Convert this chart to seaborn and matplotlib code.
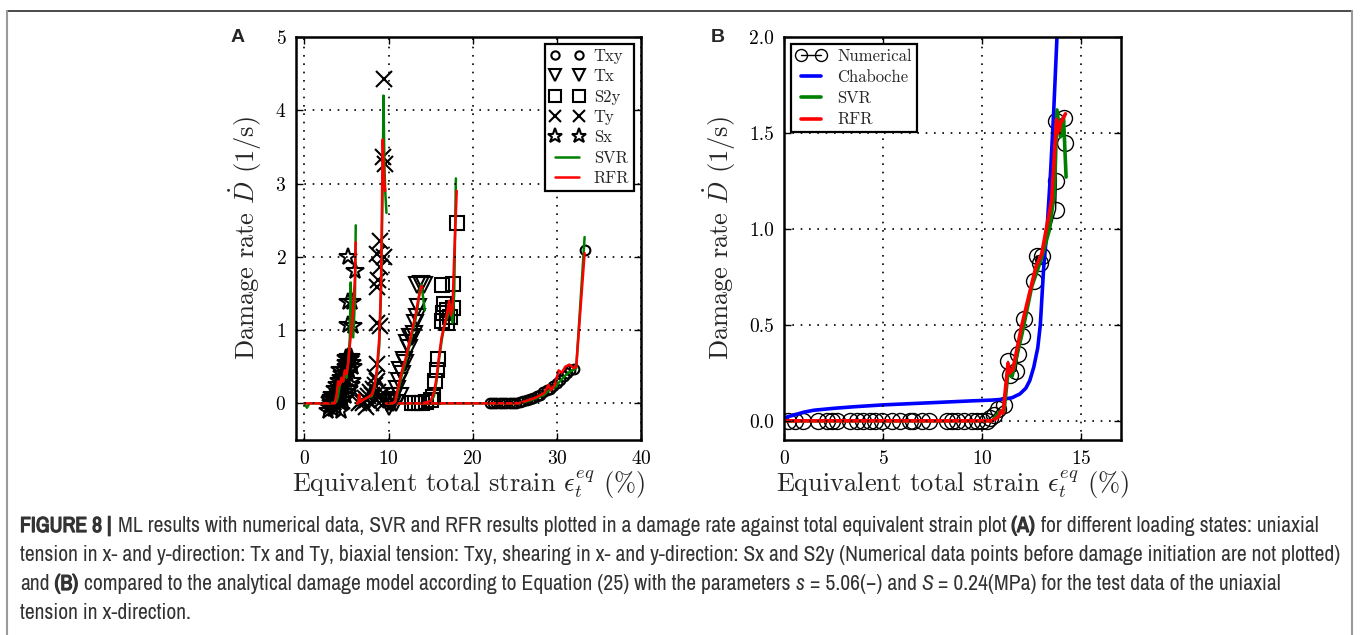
import numpy as np
import pandas as pd
import matplotlib
matplotlib.use("Agg")
import matplotlib.pyplot as plt
import seaborn as sns
from matplotlib.lines import Line2D
from matplotlib.font_manager import FontProperties
import matplotlib.patheffects as pe

# ---------------- Panel A data ----------------
sx_x = [2.9, 3.0, 3.2, 3.3, 3.5, 3.6, 3.8, 3.9, 4.0, 4.1, 4.2, 4.3, 4.4, 4.5, 4.6, 4.7, 4.8,
        4.9, 5.0, 5.1, 5.2, 5.3, 5.4, 5.5, 5.6, 5.7, 3.4, 3.7, 4.3, 4.6, 5.0, 5.3,
        3.1, 3.6, 4.0, 4.5, 4.8, 5.1, 5.5, 5.8, 4.2, 4.9, 2.8, 3.3, 3.8, 4.4, 4.7, 5.4,
        5.2, 5.8, 5.2, 5.7, 5.2, 6.0]
sx_y = [-0.05, 0.05, 0.0, 0.12, 0.05, 0.2, 0.0, 0.25, 0.15, 0.3, 0.1, 0.35, 0.2, 0.4, 0.3, 0.45, 0.15,
        0.5, 0.55, 0.6, 0.63, 0.45, 0.6, 0.63, 0.55, 0.3, -0.08, -0.05, -0.1, 0.05, 0.1, 0.2,
        0.08, 0.1, 0.05, 0.22, 0.35, 0.4, 0.25, 0.5, 0.45, 0.62, -0.1, -0.02, 0.12, 0.0, 0.35, 0.6,
        1.07, 1.05, 1.38, 1.38, 2.0, 1.8]

ty_x = [6.5, 6.8, 7.0, 7.2, 7.4, 7.6, 7.8, 8.0, 8.2, 8.4, 8.6, 8.8, 9.0, 9.2, 9.4, 7.3, 7.9, 8.5,
        8.4, 8.6, 8.6, 9.0, 8.6, 8.8, 9.0, 8.6, 9.4, 9.0, 9.3, 9.6, 9.4]
ty_y = [0.0, 0.05, 0.0, 0.08, 0.05, 0.1, 0.15, 0.12, 0.2, 0.25, 0.3, 0.15, 0.1, 0.05, 0.0, -0.05, 0.0, 0.05,
        0.36, 0.54, 1.09, 1.06, 1.59, 1.68, 1.86, 2.04, 2.0, 2.22, 3.36, 3.27, 4.43]

tx_x = [9.8, 10.1, 10.4, 10.7, 11.0, 11.2, 11.4, 11.6, 11.8, 12.0, 12.2, 12.4, 12.6, 12.8, 13.0,
        13.2, 13.4, 13.5, 13.4, 14.2, 13.8, 10.9, 11.3, 10.0, 10.5]
tx_y = [0.0, 0.02, 0.05, 0.1, 0.2, 0.31, 0.45, 0.4, 0.59, 0.55, 0.82, 0.75, 0.9, 0.9, 0.95,
        1.1, 1.18, 1.31, 1.61, 1.61, 1.63, 0.0, 0.1, -0.05, 0.0]

s2y_x = [12.8, 13.2, 13.6, 14.0, 14.5, 15.0, 15.3, 15.5, 15.7, 15.9, 16.3, 16.5, 16.9, 17.3, 17.7,
         16.3, 17.7, 18.1, 16.6, 17.0]
s2y_y = [0.0, 0.0, 0.0, 0.0, 0.02, 0.05, 0.09, 0.31, 0.45, 0.61, 1.13, 1.23, 1.27, 1.18, 1.3,
         1.61, 1.63, 2.46, 1.35, 1.1]

txy_x = [22.0, 22.4, 22.8, 23.2, 23.6, 24.0, 24.4, 24.8, 25.2, 25.6, 26.0, 26.4, 26.8, 27.2, 27.6,
         28.0, 28.4, 28.8, 29.2, 29.6, 30.0, 30.4, 30.8, 31.2, 31.6, 32.0, 33.3]
txy_y = [0.0, 0.0, 0.0, 0.0, 0.0, 0.0, 0.0, 0.0, 0.01, 0.02, 0.03, 0.04, 0.06, 0.08, 0.1,
         0.12, 0.15, 0.18, 0.2, 0.24, 0.28, 0.32, 0.37, 0.42, 0.45, 0.47, 2.09]

# SVR / RFR predictions, panel A (one run per loading state)
svr_sx_x = [0, 0.3, 0.6, 1, 2, 3, 3.8, 4.0, 4.2, 4.4, 4.6, 4.8, 5.0, 5.2, 5.4, 5.5, 5.6, 5.8, 6.0, 6.1]
svr_sx_y = [0, -0.06, 0, 0, 0, 0, 0.02, 0.1, 0.25, 0.3, 0.3, 0.4, 0.35, 0.55, 0.9, 1.65, 1.2, 0.9, 1.4, 2.43]
rfr_sx_x = [0, 1, 2, 3, 3.6, 3.8, 4.0, 4.2, 4.4, 4.6, 4.8, 5.0, 5.2, 5.4, 5.6, 5.8, 6.0, 6.1]
rfr_sx_y = [0, 0, 0, 0, 0.0, 0.1, 0.3, 0.25, 0.35, 0.3, 0.45, 0.4, 0.55, 0.8, 1.0, 1.3, 1.7, 2.2]

svr_ty_x = [6.2, 6.4, 6.5, 6.7, 7.0, 7.5, 8.0, 8.3, 8.6, 8.9, 9.1, 9.2, 9.3, 9.4, 9.5, 9.6, 9.75]
svr_ty_y = [0, 0.0, 0.1, 0.03, 0.05, 0.08, 0.1, 0.2, 0.4, 0.8, 1.5, 2.2, 3.0, 4.2, 3.3, 2.9, 2.6]
rfr_ty_x = [6.2, 6.4, 6.5, 6.7, 7.0, 7.5, 8.0, 8.3, 8.6, 8.9, 9.1, 9.2, 9.3, 9.4, 9.5, 9.6]
rfr_ty_y = [0, 0.0, 0.12, 0.02, 0.05, 0.08, 0.12, 0.22, 0.45, 0.9, 1.6, 2.5, 3.6, 3.3, 3.0, 2.9]

svr_tx_x = [9.7, 10.0, 10.5, 10.8, 11.0, 11.3, 11.6, 12.0, 12.4, 12.8, 13.2, 13.5, 13.7, 13.9, 14.1, 14.3]
svr_tx_y = [0, 0.0, 0.0, 0.02, 0.1, 0.25, 0.4, 0.55, 0.75, 0.95, 1.15, 1.35, 1.55, 1.62, 1.45, 1.27]
rfr_tx_x = [9.7, 10.0, 10.5, 10.8, 11.0, 11.3, 11.6, 12.0, 12.4, 12.8, 13.2, 13.5, 13.7, 13.9, 14.0]
rfr_tx_y = [0, 0.0, 0.0, 0.03, 0.15, 0.3, 0.45, 0.6, 0.8, 1.0, 1.2, 1.4, 1.5, 1.6, 1.58]

svr_s2y_x = [11, 12, 13, 14, 15, 15.4, 15.7, 16.0, 16.3, 16.6, 16.9, 17.2, 17.4, 17.6, 17.8, 18.0]
svr_s2y_y = [0, 0, 0, 0, 0.02, 0.1, 0.3, 0.6, 0.85, 1.05, 1.15, 1.25, 1.35, 1.1, 1.5, 3.07]
rfr_s2y_x = [11, 12, 13, 14, 15, 15.4, 15.7, 16.0, 16.3, 16.6, 16.9, 17.2, 17.4, 17.6, 17.8, 18.1]
rfr_s2y_y = [0, 0, 0, 0, 0.03, 0.15, 0.35, 0.65, 0.9, 1.05, 1.2, 1.4, 1.2, 1.3, 2.0, 2.9]

svr_txy_x = [14, 18, 20, 22, 24, 25.5, 26.5, 27.5, 28.5, 29.0, 29.3, 29.8, 30.2, 30.6, 31.0, 31.5, 32.0, 32.3, 33.3]
svr_txy_y = [0, 0, 0, 0, 0, 0.0, 0.03, 0.07, 0.12, 0.17, 0.2, 0.22, 0.28, 0.33, 0.38, 0.43, 0.46, 0.48, 2.27]
rfr_txy_x = [14, 18, 20, 22, 24, 25.5, 26.5, 27.5, 28.5, 29.0, 29.3, 29.8, 30.2, 30.6, 31.0, 31.5, 32.0, 32.3, 33.3]
rfr_txy_y = [0, 0, 0, 0, 0, 0.0, 0.04, 0.08, 0.14, 0.25, 0.18, 0.26, 0.45, 0.42, 0.5, 0.53, 0.48, 0.5, 2.05]

# ---------------- Panel B data ----------------
num_x = [0.22, 0.56, 0.98, 1.74, 2.16, 2.41, 2.66, 3.33, 3.67, 4.0, 4.34, 4.6, 4.93, 5.44, 5.86,
         6.36, 6.53, 6.95, 7.29, 8.22, 8.47, 8.72, 9.06, 9.48, 9.73, 9.98, 10.24,
         10.4, 10.6, 10.8, 11.08, 11.3, 11.4, 11.7, 11.8, 12.0, 12.1,
         12.6, 12.76, 12.9, 13.0, 13.7, 13.74, 13.7, 14.1, 14.2]
num_y = [0.0] * 27 + [0.015, 0.03, 0.06, 0.083, 0.31, 0.24, 0.26, 0.35, 0.44, 0.53,
                      0.73, 0.86, 0.82, 0.86, 1.1, 1.25, 1.56, 1.58, 1.45]

chab_x = [0.0, 0.5, 1.0, 1.5, 2.5, 3.5, 5.0, 6.5, 8.0, 9.5, 10.5, 11.0, 11.5, 11.9, 12.2, 12.4,
          12.6, 12.8, 12.93, 13.1, 13.27, 13.45, 13.6, 13.77]
chab_y = [0.015, 0.03, 0.045, 0.055, 0.065, 0.073, 0.083, 0.09, 0.097, 0.104, 0.108, 0.112, 0.12,
          0.14, 0.17, 0.21, 0.28, 0.38, 0.5, 0.8, 1.0, 1.3, 1.6, 2.0]

svrB_x = [0.0, 2, 4, 6, 8, 10, 10.5, 10.9, 11.1, 11.3, 11.5, 12.0, 12.5, 13.0, 13.4, 13.65, 13.77,
          13.94, 14.1, 14.23]
svrB_y = [0.0, 0, 0, 0, 0, 0, 0.0, 0.05, 0.05, 0.25, 0.23, 0.45, 0.7, 0.85, 1.0, 1.2, 1.62,
          1.48, 1.58, 1.27]
rfrB_x = [0.0, 2, 4, 6, 8, 10, 10.5, 10.8, 10.95, 11.05, 11.3, 11.4, 11.55, 12.0, 12.7, 13.0,
          13.5, 13.75, 13.85, 13.95, 14.2]
rfrB_y = [0.0, 0, 0, 0, 0, 0, 0.0, 0.02, 0.05, 0.04, 0.3, 0.25, 0.27, 0.5, 0.8, 0.87,
          1.15, 1.57, 1.5, 1.55, 1.6]

# ---------------- style ----------------
sns.set_style("ticks")
plt.rcParams.update({
    "font.family": ["cmr10"],
    "mathtext.fontset": "cm",
    "axes.formatter.use_mathtext": True,
    "axes.unicode_minus": False,
    "xtick.direction": "in", "ytick.direction": "in",
    "xtick.top": True, "ytick.right": True,
    "xtick.major.size": 5, "ytick.major.size": 5,
    "xtick.major.width": 1.0, "ytick.major.width": 1.0,
    "axes.linewidth": 1.8, "axes.edgecolor": "black",
    "xtick.color": "black", "ytick.color": "black",
    "xtick.labelsize": 14, "ytick.labelsize": 14,
    "xtick.major.pad": 7, "ytick.major.pad": 7,
})

W, H = 1360, 635
fig = plt.figure(figsize=(W / 100, H / 100), dpi=100)
fig.patch.set_facecolor("white")
axA = fig.add_axes([296 / W, 1 - 440 / H, 345 / W, 403 / H])
axB = fig.add_axes([784 / W, 1 - 440 / H, 337 / W, 403 / H])

GREEN = (0, 0.5, 0)
RED = (1, 0, 0)
BLUE = (0, 0, 1)

def markers(ax, x, y, marker, ms, label, mew=1.5):
    sns.lineplot(x=x, y=y, ax=ax, sort=False, estimator=None, linestyle="none",
                 marker=marker, markersize=ms, markerfacecolor="none",
                 markeredgecolor="black", markeredgewidth=mew, color="black",
                 label=label, legend=False)

def curve(ax, x, y, color, lw, label=None):
    sns.lineplot(x=x, y=y, ax=ax, sort=False, estimator=None, color=color,
                 linewidth=lw, label=label, legend=False)

# Panel A
markers(axA, txy_x, txy_y, "o", 7, "Txy")
markers(axA, tx_x, tx_y, "v", 11, "Tx")
markers(axA, s2y_x, s2y_y, "s", 10.5, "S2y")
markers(axA, ty_x, ty_y, "x", 11, "Ty")
markers(axA, sx_x, sx_y, "*", 13, "Sx")
curve(axA, svr_sx_x, svr_sx_y, GREEN, 1.8, "SVR")
curve(axA, svr_ty_x, svr_ty_y, GREEN, 1.8)
curve(axA, svr_tx_x, svr_tx_y, GREEN, 1.8)
curve(axA, svr_s2y_x, svr_s2y_y, GREEN, 1.8)
curve(axA, svr_txy_x, svr_txy_y, GREEN, 1.8)
curve(axA, rfr_sx_x, rfr_sx_y, RED, 1.8, "RFR")
curve(axA, rfr_ty_x, rfr_ty_y, RED, 1.8)
curve(axA, rfr_tx_x, rfr_tx_y, RED, 1.8)
curve(axA, rfr_s2y_x, rfr_s2y_y, RED, 1.8)
curve(axA, rfr_txy_x, rfr_txy_y, RED, 1.8)

axA.set_xlim(-1, 40)
axA.set_ylim(-0.5, 5)
axA.set_xticks([0, 10, 20, 30, 40])
axA.set_yticks([0, 1, 2, 3, 4, 5])

# Panel B
sns.lineplot(x=num_x, y=num_y, ax=axB, sort=False, estimator=None, color="black", linewidth=1.0,
             marker="o", markersize=11.5, markerfacecolor="none", markeredgecolor="black",
             markeredgewidth=1.0, label="Numerical", legend=False)
curve(axB, chab_x, chab_y, BLUE, 2.6, "Chaboche")
curve(axB, svrB_x, svrB_y, GREEN, 2.6, "SVR")
curve(axB, rfrB_x, rfrB_y, RED, 2.6, "RFR")
axB.set_xlim(0, 17)
axB.set_ylim(-0.1, 2.0)
axB.set_xticks([0, 5, 10, 15])
axB.set_yticks([0.0, 0.5, 1.0, 1.5, 2.0])
axB.set_yticklabels(["0.0", "0.5", "1.0", "1.5", "2.0"])

for ax in (axA, axB):
    ax.grid(True, color="black", linestyle=(0, (1, 4)), linewidth=1.2)
    ax.set_axisbelow(False)
    for s in ax.spines.values():
        s.set_visible(True)
        s.set_linewidth(1.8)
        s.set_zorder(5)
    ax.tick_params(which="both", direction="in", top=True, right=True)
    ax.set_xlabel(r"Equivalent total strain $\epsilon_t^{eq}$ (%)", fontsize=19, labelpad=1)
    ax.set_ylabel(r"Damage rate $\dot{D}$ (1/s)", fontsize=19, labelpad=8)

legA = axA.legend(loc="upper right", numpoints=2, prop={"family": "cmr10", "size": 12},
                  frameon=True, fancybox=False, edgecolor="black", framealpha=1,
                  labelspacing=0.3, handlelength=2.0, handletextpad=0.6, markerscale=0.85,
                  borderaxespad=0.4, borderpad=0.3)
legA.get_frame().set_linewidth(1.6)
legB = axB.legend(loc="upper left", numpoints=2, prop={"family": "cmr10", "size": 12},
                  frameon=True, fancybox=False, edgecolor="black", framealpha=1,
                  labelspacing=0.35, handlelength=1.8, handletextpad=0.7, markerscale=0.75,
                  borderaxespad=0.4, borderpad=0.3)
legB.get_frame().set_linewidth(1.6)

# panel letters
fig.text(238 / W, 1 - 37 / H, "A", fontsize=14, fontweight="bold",
         family=["Liberation Sans", "DejaVu Sans"], ha="center", va="center")
fig.text(718 / W, 1 - 37 / H, "B", fontsize=14, fontweight="bold",
         family=["Liberation Sans", "DejaVu Sans"], ha="center", va="center")

# frame lines around the figure
fig.add_artist(Line2D([7 / W, 1352 / W], [1 - 11 / H, 1 - 11 / H], transform=fig.transFigure,
                      color="#2b2b2b", linewidth=1.2))
fig.add_artist(Line2D([7 / W, 7 / W], [1 - 11 / H, 0], transform=fig.transFigure,
                      color="#9a9a9a", linewidth=1.5))
fig.add_artist(Line2D([1352 / W, 1352 / W], [1 - 11 / H, 0], transform=fig.transFigure,
                      color="#9a9a9a", linewidth=1.5))

# caption (rich text placed piece by piece)
cap_lines = [
    [("FIGURE 8 |", "bold", "normal"),
     (" ML results with numerical data, SVR and RFR results plotted in a damage rate against total equivalent strain plot ", "normal", "normal"),
     ("(A)", "bold", "normal"),
     (" for different loading states: uniaxial", "normal", "normal")],
    [("tension in x- and y-direction: Tx and Ty, biaxial tension: Txy, shearing in x- and y-direction: Sx and S2y (Numerical data points before damage initiation are not plotted)", "normal", "normal")],
    [("and ", "normal", "normal"), ("(B)", "bold", "normal"),
     (" compared to the analytical damage model according to Equation (25) with the parameters ", "normal", "normal"),
     ("s", "normal", "italic"), (" = 5.06(\u2212) and ", "normal", "normal"),
     ("S", "normal", "italic"), (" = 0.24(MPa) for the test data of the uniaxial", "normal", "normal")],
    [("tension in x-direction.", "normal", "normal")],
]
cap_family = ["Archivo Narrow", "Liberation Sans", "DejaVu Sans"]
cap_color = "#333333"
cap_size = 12.0
renderer = fig.canvas.get_renderer()
bold_fx = [pe.withStroke(linewidth=0.9, foreground=cap_color)]

def text_w(s, style, size):
    fp = FontProperties(family=cap_family, style=style, size=size)
    w1, _, _ = renderer.get_text_width_height_descent("|" + s + "|", fp, ismath=False)
    w0, _, _ = renderer.get_text_width_height_descent("||", fp, ismath=False)
    return w1 - w0

target = 1343 - 20
wline = sum(text_w(t, st, cap_size) for t, wt, st in cap_lines[1])
cap_size = cap_size * target / wline

baselines = [532, 561, 590, 619]
for line, yb in zip(cap_lines, baselines):
    x = 20.0
    for t, wt, st in line:
        core = t.strip(" ")
        lead = len(t) - len(t.lstrip(" "))
        trail = len(t) - len(t.rstrip(" "))
        sp = text_w(" ", st, cap_size)
        x += lead * sp
        txt = fig.text(x / W, 1 - yb / H, core, fontsize=cap_size, style=st,
                       family=cap_family, color=cap_color, ha="left", va="baseline")
        extra = 0.0
        if wt == "bold":
            txt.set_path_effects(bold_fx)
            extra = 1.0
        x += text_w(core, st, cap_size) + trail * sp + extra

fig.savefig("out.png", dpi=100, facecolor="white")
